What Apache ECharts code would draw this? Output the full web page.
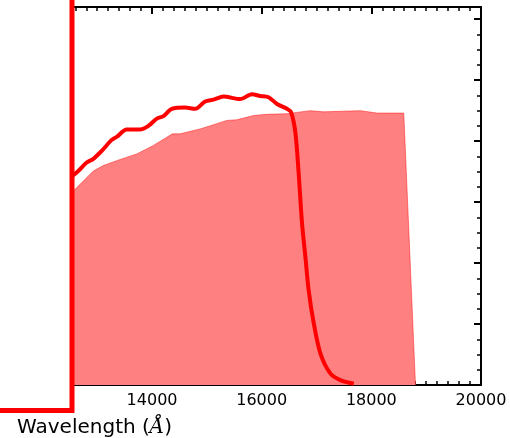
<!DOCTYPE html>
<html><head><meta charset="utf-8">
<script src="https://cdn.jsdelivr.net/npm/echarts@6/dist/echarts.min.js"></script>
<style>html,body{margin:0;padding:0;background:#fff}#c{width:510px;height:438px}</style>
</head><body><div id="c"></div>
<script>
// Axis ranges
const X_MIN = 12540, X_MAX = 20000, Y_MAX = 6.2;
// Tick positions / labels
const xMajorTicks = [14000, 16000, 18000, 20000];
const yMajorTicks = [0, 1, 2, 3, 4, 5, 6];
const xMinorTicks = []; for (let v = 12600; v <= 20000; v += 200) if (v % 2000) xMinorTicks.push(v);
const yMinorTicks = []; for (let v = 0.25; v < Y_MAX; v += 0.25) if (v % 1) yMinorTicks.push(v);

// Filled transmission band
const fillWave = [12400, 12540, 12929, 13112, 13356, 13722, 14025, 14372, 14513, 14878, 15366, 15548, 15851, 16096, 16461, 16887, 17130, 17800, 18105, 18591, 18805];
const fillVal  = [2.85, 3.16, 3.51, 3.60, 3.68, 3.79, 3.93, 4.12, 4.12, 4.20, 4.34, 4.35, 4.42, 4.44, 4.45, 4.50, 4.48, 4.50, 4.46, 4.46, 0];

// Thick red curve
const curveWave = [12450, 12564, 12655, 12808, 12929, 13082, 13265, 13356, 13539, 13782, 13934, 14087, 14208, 14361, 14604, 14787, 14969, 15121, 15304, 15608, 15822, 15974, 16125, 16279, 16461, 16534, 16613, 16673, 16735, 16796, 16856, 16948, 17070, 17252, 17435, 17679];
const curveVal  = [3.36, 3.44, 3.51, 3.65, 3.71, 3.84, 4.02, 4.07, 4.19, 4.19, 4.25, 4.37, 4.41, 4.53, 4.55, 4.53, 4.65, 4.68, 4.73, 4.69, 4.77, 4.74, 4.72, 4.61, 4.53, 4.48, 4.15, 3.49, 2.66, 2.11, 1.56, 1.02, 0.52, 0.19, 0.08, 0.02];

// Red L-shaped line on the left (extends outside plot)
const frameWave = [12540, 12540, 11079];
const frameVal  = [6.45, -0.42, -0.42];

const zip = (a, b) => a.map((x, i) => [x, b[i]]);

function xa(pos, ticks, len, showLabel, showLine) {
  return {
    type: 'value', position: pos, min: X_MIN, max: X_MAX,
    axisLine: {show: showLine, onZero: false, lineStyle: {color: '#000', width: 2}},
    axisTick: {show: true, inside: true, length: len, customValues: ticks, lineStyle: {color: '#000', width: len > 5 ? 2 : 1.5}},
    axisLabel: {show: showLabel, customValues: ticks, fontSize: 16, color: '#000', fontFamily: 'DejaVu Sans', margin: 8,
                formatter: v => String(v)},
    splitLine: {show: false}
  };
}
function ya(pos, ticks, len, showLine) {
  return {
    type: 'value', position: pos, min: 0, max: Y_MAX,
    axisLine: {show: showLine, onZero: false, lineStyle: {color: '#000', width: 2}},
    axisTick: {show: true, inside: true, length: len, customValues: ticks, lineStyle: {color: '#000', width: len > 5 ? 2 : 1.5}},
    axisLabel: {show: false},
    splitLine: {show: false}
  };
}

const chart = echarts.init(document.getElementById('c'), null, {renderer: 'canvas'});
chart.setOption({
  animation: false,
  backgroundColor: '#fff',
  grid: {left: 72, right: 29, top: 7, bottom: 53, containLabel: false},
  title: {
    text: '{n|Wavelength (}{i|Å}{n|)}',
    left: 17, top: 418, padding: 0,
    textStyle: {fontWeight: 'normal', rich: {
      n: {fontSize: 20, fontFamily: 'DejaVu Sans', fontWeight: 'normal', color: '#000'},
      i: {fontSize: 20, fontFamily: 'DejaVu Serif', fontStyle: 'italic', fontWeight: 'normal', color: '#000'}
    }}
  },
  xAxis: [
    xa('bottom', xMajorTicks, 7, true, true),
    xa('bottom', xMinorTicks, 4, false, false),
    xa('top', xMajorTicks, 7, false, true),
    xa('top', xMinorTicks, 4, false, false)
  ],
  yAxis: [
    ya('right', yMajorTicks, 7, true),
    ya('right', yMinorTicks, 4, false)
  ],
  series: [
    {type: 'line', xAxisIndex: 0, yAxisIndex: 0, data: zip(fillWave, fillVal), showSymbol: false,
     lineStyle: {width: 1, color: 'rgba(255,0,0,0.45)'}, areaStyle: {color: '#ff8080', opacity: 1}, z: 2},
    {type: 'line', xAxisIndex: 0, yAxisIndex: 0, data: zip(curveWave, curveVal), showSymbol: false, smooth: 0.3,
     lineStyle: {width: 4, color: '#ff0000'}, z: 3}
  ]
});

// L-shaped red line drawn through the axis scales (extends beyond the plot)
const pts = zip(frameWave, frameVal).map(p => chart.convertToPixel({xAxisIndex: 0, yAxisIndex: 0}, p));
chart.setOption({
  graphic: [{type: 'polyline', shape: {points: pts}, style: {stroke: '#ff0000', lineWidth: 5, fill: null, lineJoin: 'miter'}, z: 10}]
});
</script></body></html>
